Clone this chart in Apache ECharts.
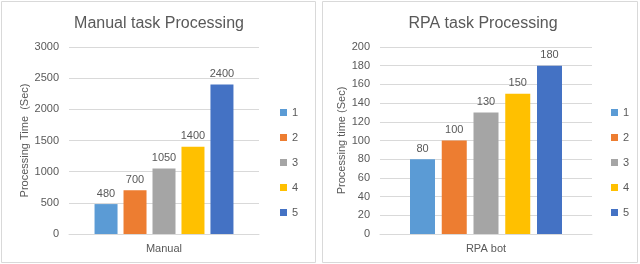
<!DOCTYPE html>
<html><head><meta charset="utf-8">
<script src="https://cdn.jsdelivr.net/npm/echarts@6/dist/echarts.min.js"></script>
<style>html,body{margin:0;padding:0;background:#fff}#c{width:640px;height:264px}</style>
</head><body><div id="c"></div>
<script>
const seriesNames = ['1','2','3','4','5'];
const colors = ['#5B9BD5','#ED7D31','#A5A5A5','#FFC000','#4472C4'];
const manualCategory = ['Manual'];
const manualValues = [480, 700, 1050, 1400, 2400];
const rpaCategory = ['RPA bot'];
const rpaValues = [80, 100, 130, 150, 180];
const titles = ['Manual task Processing', 'RPA task Processing'];
const yNames = ['Processing Time  (Sec)', 'Processing time (Sec)'];

const txt = '#595959';
const font = 'Liberation Sans';
const chart = echarts.init(document.getElementById('c'));

function mkSeries(vals, idx, bw, gap){
  return vals.map((v,i)=>({
    name: seriesNames[i], type:'bar', xAxisIndex: idx, yAxisIndex: idx,
    data:[v], barWidth: bw, barGap: gap,
    itemStyle:{color: colors[i]},
    label:{show:true, position:'top', distance:5, color: txt, fontSize:11, fontFamily: font},
    emphasis:{disabled:true}
  }));
}
const axisCommon = {
  axisLine:{show:false}, axisTick:{show:false},
  axisLabel:{color: txt, fontSize:11, fontFamily: font, margin:10, formatter: v => String(v)},
  splitLine:{lineStyle:{color:'#D9D9D9'}}
};
chart.setOption({
  animation:false,
  textStyle:{fontFamily: font},
  graphic:[
    {type:'rect', shape:{x:1.5,y:1.5,width:314,height:261}, style:{fill:'none', stroke:'#D9D9D9', lineWidth:1}},
    {type:'rect', shape:{x:322.5,y:1.5,width:315,height:261}, style:{fill:'none', stroke:'#D9D9D9', lineWidth:1}}
  ],
  title:[
    {text: titles[0], left: 154, top: 11, textAlign:'center', textStyle:{color: txt, fontSize:16, fontWeight:'normal', fontFamily: font}},
    {text: titles[1], left: 478, top: 11, textAlign:'center', textStyle:{color: txt, fontSize:16, fontWeight:'normal', fontFamily: font}}
  ],
  legend:[
    {orient:'vertical', left: 275, top: 102, itemWidth:7, itemHeight:7, itemGap:14, icon:'rect', data: seriesNames,
     textStyle:{color: txt, fontSize:11, fontFamily: font}, selectedMode:false},
    {orient:'vertical', left: 606, top: 102, itemWidth:7, itemHeight:7, itemGap:14, icon:'rect', data: seriesNames,
     textStyle:{color: txt, fontSize:11, fontFamily: font}, selectedMode:false}
  ],
  grid:[
    {left:69, width:190, top:47, height:187},
    {left:380, width:212, top:47, height:187}
  ],
  xAxis:[
    {type:'category', gridIndex:0, data: manualCategory, axisTick:{show:false},
     axisLine:{lineStyle:{color:'#D9D9D9'}}, axisLabel:{color: txt, fontSize:11, fontFamily: font, margin:9}},
    {type:'category', gridIndex:1, data: rpaCategory, axisTick:{show:false},
     axisLine:{lineStyle:{color:'#D9D9D9'}}, axisLabel:{color: txt, fontSize:11, fontFamily: font, margin:9}}
  ],
  yAxis:[
    Object.assign({type:'value', gridIndex:0, min:0, max:3000, interval:500,
      name: yNames[0], nameLocation:'middle', nameGap:38, nameRotate:90,
      nameTextStyle:{color: txt, fontSize:11, fontFamily: font}}, axisCommon),
    Object.assign({type:'value', gridIndex:1, min:0, max:200, interval:20,
      name: yNames[1], nameLocation:'middle', nameGap:33, nameRotate:90,
      nameTextStyle:{color: txt, fontSize:11, fontFamily: font}}, axisCommon)
  ],
  series: mkSeries(manualValues, 0, 23, '26%').concat(mkSeries(rpaValues, 1, 25, '27%'))
});
</script></body></html>
